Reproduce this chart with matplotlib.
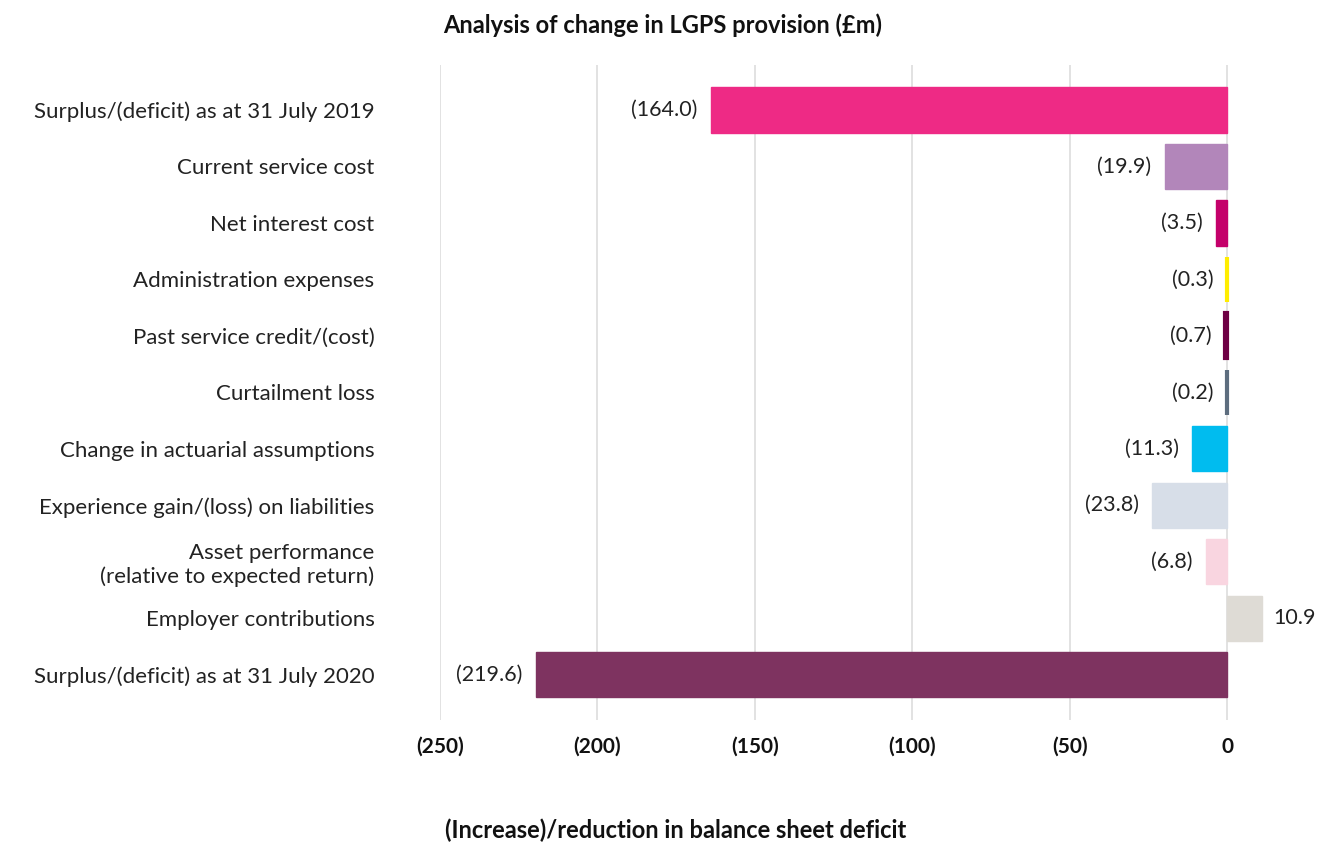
import matplotlib.pyplot as plt

categories = [
    'Surplus/(deficit) as at 31 July 2019',
    'Current service cost',
    'Net interest cost',
    'Administration expenses',
    'Past service credit/(cost)',
    'Curtailment loss',
    'Change in actuarial assumptions',
    'Experience gain/(loss) on liabilities',
    'Asset performance\n(relative to expected return)',
    'Employer contributions',
    'Surplus/(deficit) as at 31 July 2020',
]
values = [-164.0, -19.9, -3.5, -0.3, -0.7, -0.2, -11.3, -23.8, -6.8, 10.9, -219.6]
colors = ['#EE2A85', '#B286BA', '#C4006A', '#FFED00', '#6E0044', '#5D6D7E',
          '#00BCEF', '#D7DEE8', '#F9D5E0', '#DEDBD5', '#7E3360']
xticks = [-250, -200, -150, -100, -50, 0]
xtick_labels = ['(250)', '(200)', '(150)', '(100)', '(50)', '0']

plt.rcParams['font.family'] = ['Lato', 'DejaVu Sans']

fig = plt.figure(figsize=(13.17, 8.42), dpi=100)
ax = fig.add_axes([0.334, 0.145, 0.665, 0.778])

y = list(range(len(categories)))
# a thicker edge in the bar colour keeps the sub-1 bars visible
edge_w = [3.0 if abs(v) < 1 else 1.0 for v in values]
ax.barh(y, values, height=0.8, color=colors, edgecolor=colors, linewidth=edge_w, zorder=2)

def fmt(v):
    return f'({abs(v):.1f})' if v < 0 else f'{v:.1f}'

for yi, v in zip(y, values):
    if v < 0:
        ax.text(v - 4.2, yi, fmt(v), ha='right', va='center', fontsize=15.5, color='#222222')
    else:
        ax.text(v + 3.5, yi, fmt(v), ha='left', va='center', fontsize=15.5, color='#222222')

ax.set_xlim(-250, 28)
ax.set_ylim(len(categories) - 0.2, -0.8)
ax.set_xticks(xticks)
ax.set_xticklabels(xtick_labels, fontsize=15, fontweight='bold', color='#111111')
ax.set_yticks(y)
ax.set_yticklabels(categories, fontsize=16, color='#222222', linespacing=1.2)
ax.tick_params(axis='both', length=0)
ax.tick_params(axis='x', pad=12)
ax.tick_params(axis='y', pad=47)
for lbl in ax.get_yticklabels():
    lbl.set_horizontalalignment('right')

ax.grid(axis='x', color='#DDDDDD', linewidth=1.2, zorder=0)
ax.set_axisbelow(True)
for s in ax.spines.values():
    s.set_visible(False)

fig.text(0.503, 0.970, 'Analysis of change in LGPS provision (£m)', ha='center', va='center',
         fontsize=17, fontweight='bold', color='#111111')
fig.text(0.513, 0.014, '(Increase)/reduction in balance sheet deficit', ha='center', va='center',
         fontsize=17, fontweight='bold', color='#111111')

fig.savefig('out.png', dpi=100)
